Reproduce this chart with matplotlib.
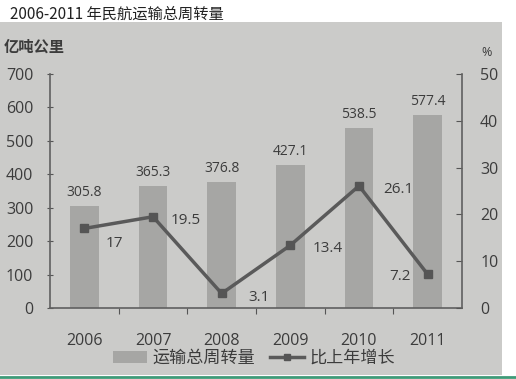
import matplotlib
matplotlib.use('Agg')
import matplotlib.pyplot as plt
from matplotlib.patches import Rectangle
from matplotlib.lines import Line2D
from matplotlib.patches import Patch

plt.rcParams['font.family'] = ['Open Sans', 'Noto Sans CJK SC', 'DejaVu Sans']

years = ['2006', '2007', '2008', '2009', '2010', '2011']
volume = [305.8, 365.3, 376.8, 427.1, 538.5, 577.4]
growth = [17, 19.5, 3.1, 13.4, 26.1, 7.2]
# label offsets (pixels) for the growth values
growth_offsets = [(30, -15), (33, -4), (37, -4), (37, -3), (39, -4), (-28, -2)]

BG = '#cbcbc9'
BAR = '#a6a6a4'
LINE = '#5a5a5a'
TEXT = '#3c3c3c'
CJK = ['Noto Sans CJK SC', 'DejaVu Sans']

fig = plt.figure(figsize=(5.16, 3.79), dpi=100)
fig.patch.set_facecolor('white')
W, H = 516, 379
fig.patches.append(Rectangle((0, 1 - 375 / H), 502 / W, (375 - 22) / H,
                             transform=fig.transFigure, facecolor=BG,
                             edgecolor='none', zorder=-10))
fig.add_artist(Line2D([0, 1], [1 - 377 / H] * 2, transform=fig.transFigure,
                      color='#3f9a78', lw=2))

ax = fig.add_axes([50 / W, 1 - 308 / H, (462 - 50) / W, (308 - 74) / H])
ax.set_facecolor('none')
x = list(range(len(years)))
ax.bar(x, volume, width=0.42, color=BAR, zorder=2)
for xi, v in zip(x, volume):
    ax.annotate(f'{v}', (xi, v), xytext=(0, 6), textcoords='offset pixels',
                ha='center', va='bottom', fontsize=10, color=TEXT)
ax.set_xlim(-0.5, len(years) - 0.5)
ax.set_ylim(0, 700)
ax.set_yticks(range(0, 701, 100))
ax.set_xticks([i + 0.5 for i in range(len(years) - 1)])
ax.set_xticklabels([])
ax.tick_params(axis='x', length=4, color='#555555', direction='out')
for xi, y in zip(x, years):
    ax.annotate(y, (xi, 0), xytext=(0, -25), textcoords='offset pixels',
                ha='center', va='top', fontsize=11.5, color=TEXT)
ax.tick_params(axis='y', length=4, color='#555555', direction='inout',
               labelsize=11.5, labelcolor=TEXT, pad=10)
for s in ['top', 'right']:
    ax.spines[s].set_visible(False)
for s in ['left', 'bottom']:
    ax.spines[s].set_color('#606060')
    ax.spines[s].set_linewidth(1.2)

ax2 = ax.twinx()
ax2.plot(x, growth, color=LINE, lw=2.5, marker='s', markersize=6,
         markerfacecolor='#555555', markeredgecolor='#555555', zorder=3)
for xi, g, (dx, dy) in zip(x, growth, growth_offsets):
    ax2.annotate(f'{g}', (xi, g), xytext=(dx, dy), textcoords='offset pixels',
                 ha='center', va='center', fontsize=11, color=TEXT)
ax2.set_ylim(0, 50)
ax2.set_yticks(range(0, 51, 10))
ax2.tick_params(axis='y', length=4, color='#555555', direction='in',
                labelsize=11.5, labelcolor=TEXT, pad=13)
for s in ['top', 'left', 'bottom']:
    ax2.spines[s].set_visible(False)
ax2.spines['right'].set_color('#606060')
ax2.spines['right'].set_linewidth(1.2)

fig.text(10 / W, 1 - 14 / H, '2006-2011 年民航运输总周转量', family=CJK,
         fontsize=11, color='#222222', va='center', ha='left')
fig.text(4 / W, 1 - 47 / H, '亿吨公里', family=CJK, fontsize=11,
         fontweight='bold', color=TEXT, va='center', ha='left')
fig.text(487 / W, 1 - 53 / H, '%', fontsize=9, color=TEXT,
         va='center', ha='center')

handles = [Patch(facecolor=BAR, edgecolor='none'),
           Line2D([], [], color=LINE, lw=2.5, marker='s', markersize=5,
                  markerfacecolor='#555555', markeredgecolor='#555555')]
leg = fig.legend(handles, ['运输总周转量', '比上年增长'], loc='center',
                 bbox_to_anchor=(254 / W, 1 - 358 / H), ncol=2, frameon=False,
                 prop={'family': CJK, 'size': 12.3}, handlelength=2.0,
                 handletextpad=0.3, columnspacing=0.9, labelcolor=TEXT)

fig.savefig('out.png', dpi=100)
